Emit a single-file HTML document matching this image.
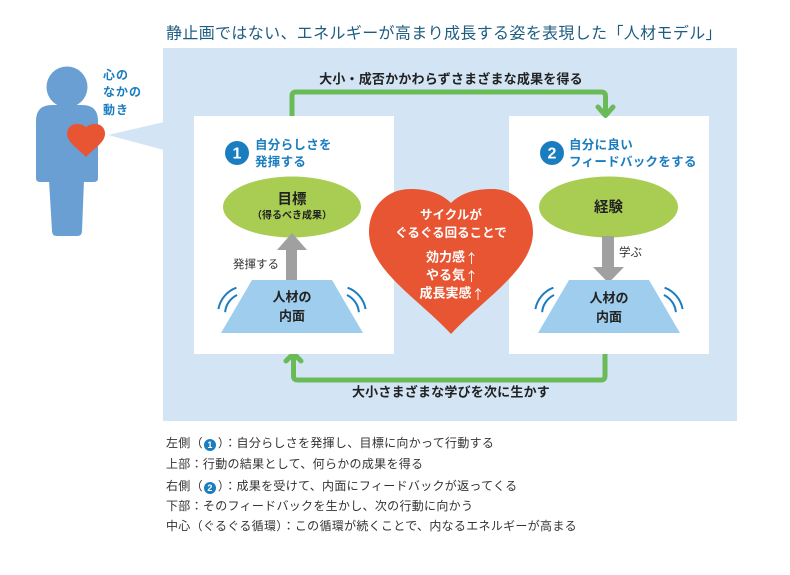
<!DOCTYPE html>
<html><head><meta charset="utf-8">
<style>
html,body{margin:0;padding:0;background:#fff;}
body{width:790px;height:575px;position:relative;overflow:hidden;font-family:"Liberation Sans","Noto Sans CJK JP",sans-serif;}
svg{position:absolute;left:0;top:0;}
.ln{position:absolute;left:166px;font-size:12px;letter-spacing:0.3px;color:#333;white-space:nowrap;line-height:14px;}
.cn{display:inline-block;width:12px;height:12px;border-radius:50%;background:#1a7dc0;color:#fff;font-size:9px;font-weight:bold;text-align:center;line-height:12px;vertical-align:-1px;letter-spacing:0;margin:0 2px 0 1px;font-family:"Liberation Sans",sans-serif;}
.pw{font-family:"Noto Sans CJK JP",sans-serif;}
</style></head>
<body>
<svg width="790" height="575" viewBox="0 0 790 575" xmlns="http://www.w3.org/2000/svg" font-family="'Liberation Sans','Noto Sans CJK JP',sans-serif">
  <!-- title -->
  <text x="166" y="34" font-size="16" letter-spacing="0.35" fill="#1e5d82" dominant-baseline="central">静止画ではない、エネルギーが高まり成長する姿を表現した「人材モデル」</text>

  <!-- panel -->
  <rect x="163" y="48" width="574" height="373" fill="#d3e5f5"/>
  <polygon points="108,135 164,122 164,150" fill="#d3e5f5"/>

  <!-- person -->
  <circle cx="67" cy="87" r="20.5" fill="#6a9fd3"/>
  <path d="M36,121 Q36,105 52,105 L82,105 Q98,105 98,121 L98,178 Q98,182 94,182 L40,182 Q36,182 36,178 Z" fill="#6a9fd3"/>
  <path d="M49,180 L84,180 L82,231 Q82,236 77,236 L57,236 Q52,236 52,231 Z" fill="#6a9fd3"/>
  <path transform="translate(67,124) scale(0.232,0.228)" d="M82 14 C71 3,56 0,41 0 C18 0,0 18,0 43 C0 81,51 111,82 145 C113 111,164 81,164 43 C164 18,146 0,123 0 C108 0,93 3,82 14 Z" fill="#e85533"/>
  <g font-size="12" font-weight="bold" fill="#1a7dc0" letter-spacing="1" dominant-baseline="central">
    <text x="103" y="75">心の</text>
    <text x="103" y="92">なかの</text>
    <text x="103" y="110">動き</text>
  </g>

  <!-- green connectors -->
  <path d="M292,118 L292,96 Q292,92 296,92 L601,92 Q605.5,92 605.5,96 L605.5,114" fill="none" stroke="#6aba58" stroke-width="5"/>
  <path d="M293.5,356 L293.5,376 Q293.5,380 297.5,380 L601,380 Q605,380 605,376 L605,352" fill="none" stroke="#6aba58" stroke-width="5"/>
  <polyline points="286,361 293.5,353.5 301,361" fill="none" stroke="#6aba58" stroke-width="5" stroke-linecap="round" stroke-linejoin="round"/>

  <text x="451" y="79" font-size="13" font-weight="bold" fill="#222" text-anchor="middle" letter-spacing="0.2" dominant-baseline="central">大小・成否かかわらずさまざまな成果を得る</text>
  <text x="451" y="392" font-size="13" font-weight="bold" fill="#222" text-anchor="middle" letter-spacing="0.2" dominant-baseline="central">大小さまざまな学びを次に生かす</text>

  <!-- boxes -->
  <rect x="194" y="116" width="200" height="238" fill="#fff"/>
  <rect x="509" y="116" width="200" height="238" fill="#fff"/>
  <!-- arrowheads over box edge -->
  <polyline points="598,107 605.5,115.5 613,107" fill="none" stroke="#6aba58" stroke-width="5" stroke-linecap="round" stroke-linejoin="round"/>
  <line x1="605.5" y1="100" x2="605.5" y2="116" stroke="#6aba58" stroke-width="5"/>

  <!-- left box -->
  <circle cx="237" cy="153" r="12" fill="#1a7dc0"/>
  <text x="237" y="154" font-size="16" font-weight="bold" fill="#fff" text-anchor="middle" dominant-baseline="central" font-family="'Liberation Sans',sans-serif">1</text>
  <g font-size="12.5" font-weight="bold" fill="#1a7dc0" letter-spacing="0.3" dominant-baseline="central">
    <text x="255" y="145">自分らしさを</text>
    <text x="255" y="162">発揮する</text>
  </g>
  <ellipse cx="292" cy="207" rx="69" ry="30.5" fill="#a9cd52"/>
  <text x="292" y="200" font-size="14.5" font-weight="bold" fill="#222" text-anchor="middle" dominant-baseline="central">目標</text>
  <text x="292" y="216" font-size="10" font-weight="bold" fill="#222" text-anchor="middle" dominant-baseline="central">（得るべき成果）</text>
  <polygon points="277,250 292,233 307,250" fill="#a0a0a0"/>
  <rect x="286" y="249" width="11" height="32" fill="#a0a0a0"/>
  <text x="233" y="265" font-size="11.5" fill="#333" dominant-baseline="central">発揮する</text>
  <polygon points="252,280 332,280 363,333 221,333" fill="#9ecdee"/>
  <text x="292" y="297" font-size="13" font-weight="bold" fill="#222" text-anchor="middle" dominant-baseline="central">人材の</text>
  <text x="292" y="316" font-size="13" font-weight="bold" fill="#222" text-anchor="middle" dominant-baseline="central">内面</text>
  <g fill="none" stroke="#1a7dc0" stroke-width="2">
    <path d="M218.4,309.1 A28,28 0 0 1 236.4,287.7"/>
    <path d="M225.1,312.2 A21,21 0 0 1 237.1,295"/>
    <path d="M365.6,309.1 A28,28 0 0 0 347.6,287.7"/>
    <path d="M358.9,312.2 A21,21 0 0 0 346.9,295"/>
  </g>

  <!-- right box -->
  <circle cx="552" cy="153" r="12" fill="#1a7dc0"/>
  <text x="552" y="154" font-size="16" font-weight="bold" fill="#fff" text-anchor="middle" dominant-baseline="central" font-family="'Liberation Sans',sans-serif">2</text>
  <g font-size="12.5" font-weight="bold" fill="#1a7dc0" letter-spacing="0.3" dominant-baseline="central">
    <text x="569" y="145">自分に良い</text>
    <text x="569" y="162">フィードバックをする</text>
  </g>
  <ellipse cx="608.5" cy="207" rx="69.5" ry="30.5" fill="#a9cd52"/>
  <text x="608.5" y="208" font-size="14.5" font-weight="bold" fill="#222" text-anchor="middle" dominant-baseline="central">経験</text>
  <rect x="602" y="236" width="12" height="32" fill="#a0a0a0"/>
  <polygon points="593,267 624,267 608.5,283" fill="#a0a0a0"/>
  <text x="619" y="253" font-size="11.5" fill="#333" dominant-baseline="central">学ぶ</text>
  <polygon points="569,280 649,280 680,333 538,333" fill="#9ecdee"/>
  <text x="609" y="298" font-size="13" font-weight="bold" fill="#222" text-anchor="middle" dominant-baseline="central">人材の</text>
  <text x="609" y="317" font-size="13" font-weight="bold" fill="#222" text-anchor="middle" dominant-baseline="central">内面</text>
  <g fill="none" stroke="#1a7dc0" stroke-width="2">
    <path d="M535.4,309.1 A28,28 0 0 1 553.4,287.7"/>
    <path d="M542.1,312.2 A21,21 0 0 1 554.1,295"/>
    <path d="M682.6,309.1 A28,28 0 0 0 664.6,287.7"/>
    <path d="M675.9,312.2 A21,21 0 0 0 663.9,295"/>
  </g>

  <!-- big heart -->
  <path transform="translate(369,189)" d="M82 14 C71 3,56 0,41 0 C18 0,0 18,0 43 C0 81,51 111,82 145 C113 111,164 81,164 43 C164 18,146 0,123 0 C108 0,93 3,82 14 Z" fill="#e85533"/>
  <g font-size="12.5" font-weight="bold" fill="#fff" text-anchor="middle" dominant-baseline="central">
    <text x="451" y="215">サイクルが</text>
    <text x="451" y="233">ぐるぐる回ることで</text>
    <text x="452" y="257" font-size="13">効力感<tspan font-family="'Noto Sans CJK JP',sans-serif" font-weight="normal">↑</tspan></text>
    <text x="452" y="275" font-size="13">やる気<tspan font-family="'Noto Sans CJK JP',sans-serif" font-weight="normal">↑</tspan></text>
    <text x="452" y="293" font-size="13">成長実感<tspan font-family="'Noto Sans CJK JP',sans-serif" font-weight="normal">↑</tspan></text>
  </g>
</svg>

<div class="ln" style="top:436px;">左側<span class="pw">（</span><span class="cn">1</span><span class="pw">）</span>：自分らしさを発揮し、目標に向かって行動する</div>
<div class="ln" style="top:457px;">上部：行動の結果として、何らかの成果を得る</div>
<div class="ln" style="top:479px;">右側<span class="pw">（</span><span class="cn">2</span><span class="pw">）</span>：成果を受けて、内面にフィードバックが返ってくる</div>
<div class="ln" style="top:499px;">下部：そのフィードバックを生かし、次の行動に向かう</div>
<div class="ln" style="top:519px;">中心<span class="pw">（</span>ぐるぐる循環<span class="pw">）</span>：この循環が続くことで、内なるエネルギーが高まる</div>
</body></html>
